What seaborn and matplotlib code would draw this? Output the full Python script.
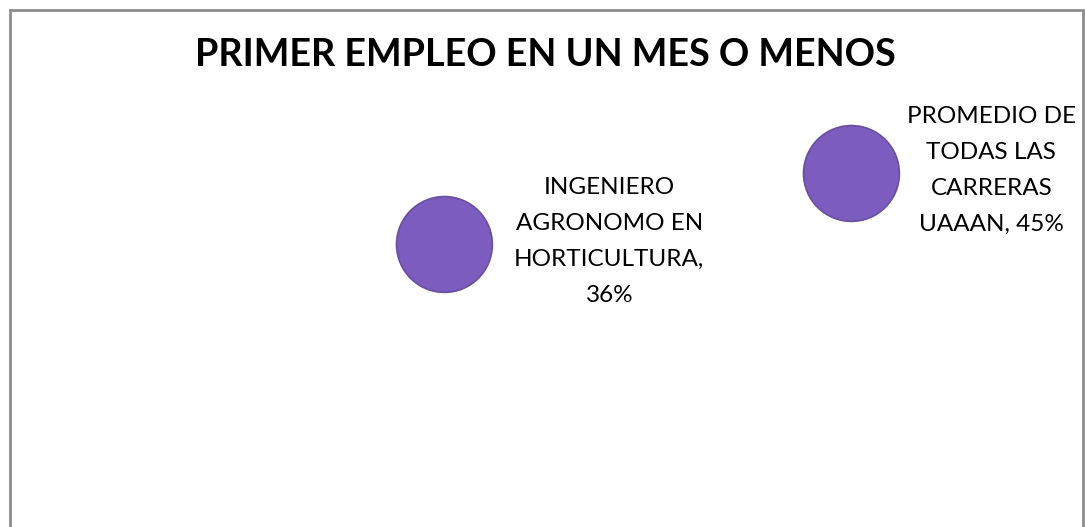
import seaborn as sns
import matplotlib.pyplot as plt
import matplotlib.patches as mpatches
import pandas as pd

# Data
categorias = ['INGENIERO\nAGRONOMO EN\nHORTICULTURA,\n36%',
              'PROMEDIO DE\nTODAS LAS\nCARRERAS\nUAAAN, 45%']
posicion_x = [1, 2]
porcentaje = [36, 45]

df = pd.DataFrame({'categoria': categorias, 'x': posicion_x, 'pct': porcentaje})

sns.set_style("white")
plt.rcParams['font.family'] = ['Lato', 'DejaVu Sans']

fig = plt.figure(figsize=(10.85, 5.27), dpi=100)
ax = fig.add_axes([0.0341, -0.002, 0.9378, 0.748])

# soft shadow ring first, then the bubble itself
sns.scatterplot(data=df, x='x', y='pct', s=4900, color='#b9b3c6', edgecolor='none',
                alpha=0.6, legend=False, ax=ax, zorder=2, clip_on=False)
sns.scatterplot(data=df, x='x', y='pct', s=4750, color='#7d5cbf',
                edgecolor='#68509e', linewidth=1.2, legend=False, ax=ax,
                zorder=3, clip_on=False)

# label offsets (points): Excel pushes the right-most label back inside the chart
offsets = [119, 101]
for (_, row), dx in zip(df.iterrows(), offsets):
    ax.annotate(row['categoria'], (row['x'], row['pct']), xytext=(dx, 2),
                textcoords='offset points', ha='center', va='center',
                fontsize=17.5, linespacing=1.88, color='black',
                annotation_clip=False)

ax.set_xlim(0, 2.5)
ax.set_ylim(0, 50)
ax.axis('off')

fig.text(0.503, 0.896, 'PRIMER EMPLEO EN UN MES O MENOS', ha='center', va='center',
         fontsize=27.2, fontweight='bold', color='black')

# chart border
fig.patches.append(mpatches.Rectangle((10 / 1085, -0.02), 1073 / 1085, 1.0 - 10 / 527 + 0.02,
                                      transform=fig.transFigure, fill=False,
                                      edgecolor='#8c8c8c', linewidth=2))

fig.savefig('out.png', dpi=100, facecolor='white')
